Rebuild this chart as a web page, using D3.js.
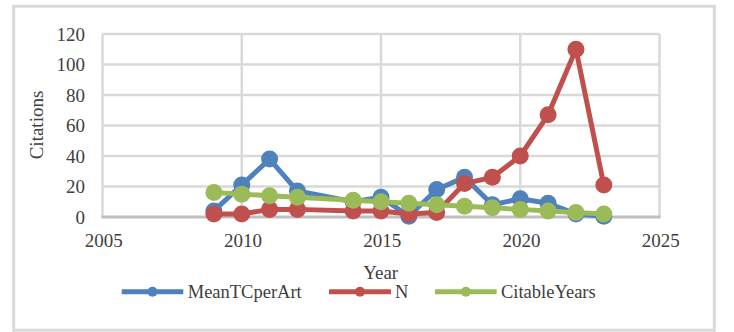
<!DOCTYPE html>
<html>
<head>
<meta charset="utf-8">
<script src="https://cdn.jsdelivr.net/npm/d3@7/dist/d3.min.js"></script>
<style>
  html, body { margin: 0; padding: 0; background: #fff; }
  svg { display: block; }
  text { font-family: "Liberation Serif", serif; fill: #404040; }
</style>
</head>
<body>
<svg id="chart" width="734" height="332"></svg>
<script>
// Publication years and the three series plotted against them
const years = [2009, 2010, 2011, 2012, 2014, 2015, 2016, 2017, 2018, 2019, 2020, 2021, 2022, 2023];
const meanTCperArt = [4, 21, 38, 17, 10, 13, 0.5, 18, 26, 8, 12, 9, 2, 0.5];
const nArticles = [2, 2, 5, 5, 4, 4, 2, 3, 22, 26, 40, 67, 110, 21];
const citableYears = [16, 15, 14, 13, 11, 10, 9, 8, 7, 6, 5, 4, 3, 2];

const xTicks = [2005, 2010, 2015, 2020, 2025];
const yTicks = [0, 20, 40, 60, 80, 100, 120];

const seriesNames = ["MeanTCperArt", "N", "CitableYears"];
const seriesColors = ["#4f81bd", "#c0504d", "#9bbb59"];
const seriesValues = [meanTCperArt, nArticles, citableYears];

const svg = d3.select("#chart");

// outer frame
svg.append("rect")
  .attr("x", 13.7).attr("y", 6.2)
  .attr("width", 700.6).attr("height", 324)
  .attr("fill", "none").attr("stroke", "#d9d9d9").attr("stroke-width", 3);

const x = d3.scaleLinear().domain([2005, 2025]).range([102.5, 659.5]);
const y = d3.scaleLinear().domain([0, 120]).range([217, 34]);

// grid
const grid = svg.append("g");
grid.selectAll(".hg").data(yTicks.filter(d => d > 0)).enter().append("line")
  .attr("x1", x(2005)).attr("x2", x(2025))
  .attr("y1", d => y(d)).attr("y2", d => y(d))
  .attr("stroke", "#d9d9d9").attr("stroke-width", 2.5);
grid.selectAll(".vg").data(xTicks).enter().append("line")
  .attr("x1", d => x(d)).attr("x2", d => x(d))
  .attr("y1", y(0)).attr("y2", y(120))
  .attr("stroke", "#d9d9d9").attr("stroke-width", 2.5);

// baseline at zero
svg.append("line")
  .attr("x1", x(2005) - 1).attr("x2", x(2025) + 1)
  .attr("y1", y(0)).attr("y2", y(0))
  .attr("stroke", "#bfbfbf").attr("stroke-width", 3);

// axes (labels only)
const yAxis = d3.axisLeft(y).tickValues(yTicks).tickSize(0).tickPadding(0);
svg.append("g").attr("transform", "translate(85,0)").call(yAxis)
  .call(g => g.select(".domain").remove())
  .selectAll("text")
  .attr("font-size", 19).attr("font-family", "Liberation Serif, serif")
  .attr("fill", "#404040").attr("dy", "0.34em");

const xAxis = d3.axisBottom(x).tickValues(xTicks).tickFormat(d3.format("d")).tickSize(0).tickPadding(0);
svg.append("g").attr("transform", "translate(0.7,233)").call(xAxis)
  .call(g => g.select(".domain").remove())
  .selectAll("text")
  .attr("font-size", 19).attr("font-family", "Liberation Serif, serif")
  .attr("fill", "#404040");

// axis titles
svg.append("text")
  .attr("x", 380.7).attr("y", 279)
  .attr("text-anchor", "middle").attr("font-size", 19)
  .text("Year");
svg.append("text")
  .attr("transform", "translate(42.5,125) rotate(-90)")
  .attr("text-anchor", "middle").attr("font-size", 19)
  .text("Citations");

// series lines and markers
const line = d3.line().x((d, i) => x(years[i])).y(d => y(d));
seriesValues.forEach((vals, k) => {
  const g = svg.append("g");
  g.append("path").datum(vals)
    .attr("d", line)
    .attr("fill", "none")
    .attr("stroke", seriesColors[k])
    .attr("stroke-width", 5)
    .attr("stroke-linejoin", "round");
  g.selectAll("circle").data(vals).enter().append("circle")
    .attr("cx", (d, i) => x(years[i]))
    .attr("cy", d => y(d))
    .attr("r", 8.5)
    .attr("fill", seriesColors[k]);
});

// legend
const legendItems = [
  { x0: 121.7, x1: 183.3, tx: 187.7 },
  { x0: 329, x1: 391, tx: 395 },
  { x0: 435, x1: 496.7, tx: 501 }
];
const ly = 291.7;
legendItems.forEach((it, k) => {
  const g = svg.append("g");
  g.append("line")
    .attr("x1", it.x0).attr("x2", it.x1)
    .attr("y1", ly).attr("y2", ly)
    .attr("stroke", seriesColors[k]).attr("stroke-width", 5);
  g.append("circle")
    .attr("cx", (it.x0 + it.x1) / 2).attr("cy", ly)
    .attr("r", 5).attr("fill", seriesColors[k]);
  g.append("text")
    .attr("x", it.tx).attr("y", ly).attr("dy", "0.34em")
    .attr("font-size", 18.5)
    .text(seriesNames[k]);
});
</script>
</body>
</html>
